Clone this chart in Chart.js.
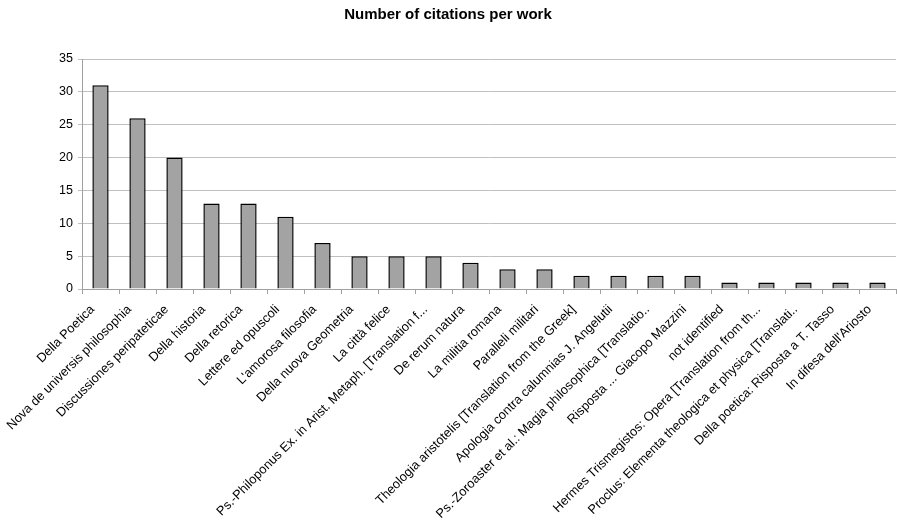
<!DOCTYPE html>
<html>
<head>
<meta charset="utf-8">
<script src="https://cdn.jsdelivr.net/npm/chart.js@4/dist/chart.umd.min.js"></script>
<style>
  html, body { margin: 0; padding: 0; background: #fff; }
  #wrap { width: 897px; height: 525px; position: relative; }
</style>
</head>
<body>
<div id="wrap"><canvas id="citations"></canvas></div>
<script>
// Datos del gráfico
const works = [
  'Della Poetica',
  'Nova de universis philosophia',
  'Discussiones peripateticae',
  'Della historia',
  'Della retorica',
  'Lettere ed opuscoli',
  "L'amorosa filosofia",
  'Della nuova Geometria',
  'La città felice',
  'Ps.-Philoponus Ex. in Arist. Metaph. [Translation f...',
  'De rerum natura',
  'La militia romana',
  'Paralleli militari',
  'Theologia aristotelis [Translation from the Greek]',
  'Apologia contra calumnias J. Angelutii',
  'Ps.-Zoroaster et al.: Magia philosophica [Translatio..',
  'Risposta ... Giacopo Mazzini',
  'not identified',
  'Hermes Trismegistos: Opera [Translation from th...',
  'Proclus: Elementa theologica et physica [Translati..',
  'Della poetica: Risposta a T. Tasso',
  "In difesa dell'Ariosto"
];
const citations = [31, 26, 20, 13, 13, 11, 7, 5, 5, 5, 4, 3, 3, 2, 2, 2, 2, 1, 1, 1, 1, 1];
const yTicks = [0, 5, 10, 15, 20, 25, 30, 35];

const font = 'Liberation Sans, Arial, sans-serif';

new Chart(document.getElementById('citations'), {
  type: 'bar',
  data: {
    labels: works,
    datasets: [{
      label: 'Citations',
      data: citations,
      backgroundColor: '#a3a3a3',
      borderColor: '#000000',
      borderWidth: 1.5,
      barPercentage: 0.44,
      categoryPercentage: 1
    }]
  },
  options: {
    responsive: true,
    maintainAspectRatio: false,
    animation: false,
    layout: { padding: { top: 0, right: 1, bottom: 0, left: 0 } },
    plugins: {
      legend: { display: false },
      tooltip: { enabled: false },
      title: {
        display: true,
        text: 'Number of citations per work',
        color: '#000',
        font: { family: font, size: 15, weight: 'bold' },
        padding: { top: 6, bottom: 35 }
      }
    },
    scales: {
      x: {
        grid: {
          display: true,
          drawOnChartArea: false,
          drawTicks: true,
          tickLength: 5,
          color: '#a0a0a0'
        },
        border: { color: '#a0a0a0' },
        ticks: {
          color: '#000',
          font: { family: font, size: 12.8 },
          minRotation: 45,
          maxRotation: 45,
          autoSkip: false,
          padding: 8,
          labelOffset: -8
        },
        afterFit(scale) { scale.height = 236; }
      },
      y: {
        min: 0,
        max: 35,
        afterBuildTicks(scale) { scale.ticks = yTicks.map(v => ({ value: v })); },
        grid: { color: '#c0c0c0', tickLength: 4, drawTicks: true },
        border: { color: '#a0a0a0' },
        ticks: {
          color: '#000',
          font: { family: font, size: 12.5 },
          padding: 5
        },
        afterFit(scale) { scale.width = 82; }
      }
    }
  }
});
</script>
</body>
</html>
